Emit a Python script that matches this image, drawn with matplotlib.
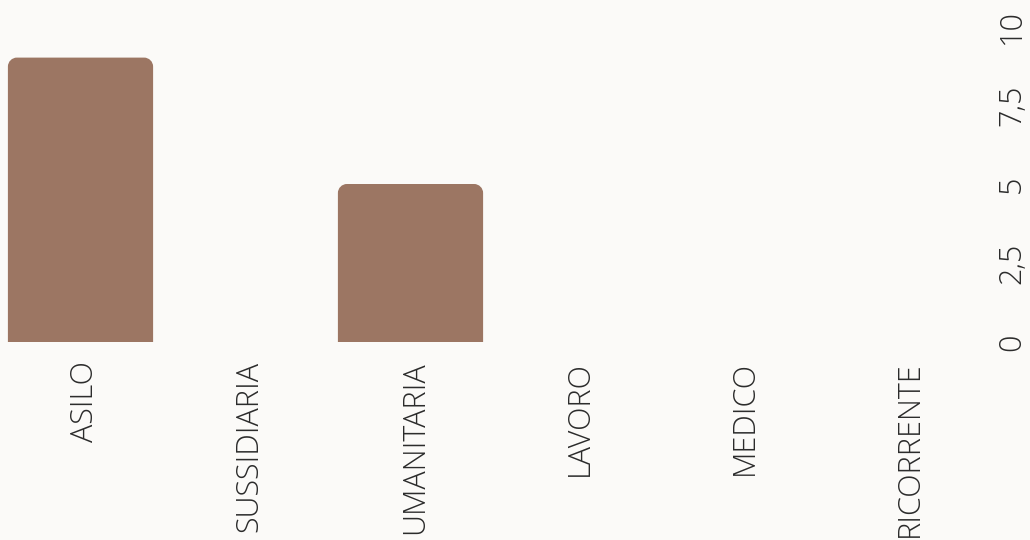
import matplotlib
matplotlib.use("Agg")
import matplotlib.pyplot as plt
from matplotlib.path import Path
from matplotlib.patches import PathPatch
from matplotlib import font_manager
from matplotlib.transforms import ScaledTranslation

categories = ["ASILO", "SUSSIDIARIA", "UMANITARIA", "LAVORO", "MEDICO", "RICORRENTE"]
values = [9, 0, 5, 0, 0, 0]
y_ticks = [0, 2.5, 5, 7.5, 10]
y_tick_labels = ["0", "2,5", "5", "7,5", "10"]

BG = "#FBFAF8"
BAR = "#9C7663"
TEXT = "#2B2B2B"

names = {f.name for f in font_manager.fontManager.ttflist}
family = "Open Sans" if "Open Sans" in names else "DejaVu Sans"
plt.rcParams["font.family"] = [family, "DejaVu Sans"]
plt.rcParams["font.weight"] = "light"

W, H = 1030, 540
fig = plt.figure(figsize=(W / 100, H / 100), dpi=100, facecolor=BG)

# axes in pixel terms: categories at 80.5 + 165*i, baseline at y=342, 10 at y=26
ax_left_px, ax_right_px = 0, 985
ax_bottom_px, ax_top_px = H - 342, H - 26
ax = fig.add_axes([ax_left_px / W, ax_bottom_px / H,
                   (ax_right_px - ax_left_px) / W, (ax_top_px - ax_bottom_px) / H])
ax.set_facecolor(BG)

step_px = 165.0
x0_px = 80.5
ax.set_xlim((ax_left_px - x0_px) / step_px, (ax_right_px - x0_px) / step_px)
ax.set_ylim(0, 10)

x = list(range(len(categories)))
bars = ax.bar(x, values, width=0.88, color=BAR)

# replace the square bars with ones that have rounded top corners
px_per_x = step_px
px_per_y = (ax_top_px - ax_bottom_px) / 10.0
r_px = 9
rx, ry = r_px / px_per_x, r_px / px_per_y
k = 0.5523
for rect in bars:
    h = rect.get_height()
    if h <= 0:
        rect.set_visible(False)
        continue
    bx, bw = rect.get_x(), rect.get_width()
    verts = [
        (bx, 0), (bx, h - ry),
        (bx, h - ry + k * ry), (bx + rx - k * rx, h), (bx + rx, h),
        (bx + bw - rx, h),
        (bx + bw - rx + k * rx, h), (bx + bw, h - ry + k * ry), (bx + bw, h - ry),
        (bx + bw, 0), (bx, 0),
    ]
    codes = [Path.MOVETO, Path.LINETO,
             Path.CURVE4, Path.CURVE4, Path.CURVE4,
             Path.LINETO,
             Path.CURVE4, Path.CURVE4, Path.CURVE4,
             Path.LINETO, Path.CLOSEPOLY]
    rect.set_visible(False)
    ax.add_patch(PathPatch(Path(verts, codes), facecolor=BAR, edgecolor="none"))

for s in ax.spines.values():
    s.set_visible(False)

FS = 22

ax.set_xticks(x, labels=categories)
ax.tick_params(axis="x", length=0, pad=14, labelsize=FS, labelcolor=TEXT)
shift = ScaledTranslation(3 / 72, 0, fig.dpi_scale_trans)
for lab in ax.get_xticklabels():
    lab.set_rotation(90)
    lab.set_ha("center")
    lab.set_va("top")
    lab.set_transform(lab.get_transform() + shift)

ax.set_yticks(y_ticks, labels=y_tick_labels)
ax.yaxis.tick_right()
ax.tick_params(axis="y", length=0, pad=8, labelsize=FS, labelcolor=TEXT,
               left=False, right=False, labelleft=False, labelright=True)
for lab in ax.get_yticklabels():
    lab.set_rotation(90)
    lab.set_va("center")
    lab.set_ha("left")

fig.savefig("out.png", dpi=100, facecolor=BG)
